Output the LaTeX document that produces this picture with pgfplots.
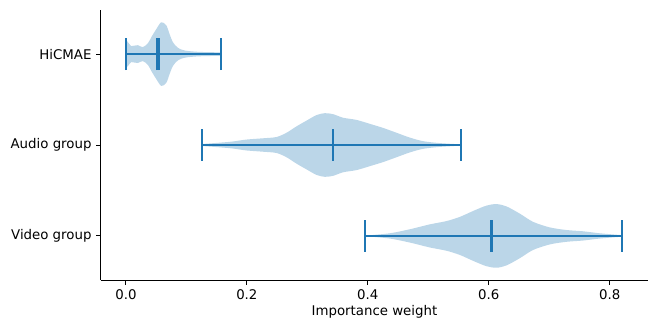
\documentclass[border=0pt]{standalone}
\usepackage{fontspec}
\setmainfont{DejaVu Sans}
\usepackage{pgfplots}
\usepackage{pgfplotstable}
\pgfplotsset{compat=1.18}
\usepgfplotslibrary{fillbetween}
\definecolor{c0}{HTML}{1F77B4}

% x = importance weight, w = half width of the violin (y units)
\pgfplotstableread{
x w
0.0000 0.153
0.0033 0.131
0.0088 0.088
0.0140 0.093
0.0198 0.098
0.0280 0.077
0.0364 0.120
0.0420 0.186
0.0500 0.273
0.0584 0.350
0.0667 0.317
0.0722 0.219
0.0777 0.131
0.0860 0.069
0.0970 0.040
0.1190 0.025
0.1565 0.019
}\hicmae

\pgfplotstableread{
x w
0.1262 0.011
0.1719 0.035
0.1994 0.060
0.2270 0.074
0.2490 0.088
0.2656 0.135
0.2821 0.205
0.2986 0.268
0.3152 0.329
0.3289 0.350
0.3427 0.339
0.3592 0.300
0.3813 0.276
0.4033 0.233
0.4253 0.188
0.4474 0.135
0.4694 0.082
0.4915 0.042
0.5190 0.021
0.5537 0.007
}\audio

\pgfplotstableread{
x w
0.3961 0.003
0.4364 0.029
0.4694 0.073
0.5025 0.127
0.5300 0.163
0.5521 0.209
0.5741 0.274
0.5961 0.333
0.6127 0.350
0.6292 0.325
0.6512 0.246
0.6733 0.155
0.7008 0.094
0.7284 0.065
0.7559 0.051
0.7835 0.029
0.8209 0.008
}\video

\begin{document}
\begin{tikzpicture}
\begin{axis}[
  at={(0pt,0pt)}, anchor=south west,
  scale only axis,
  width=393.8pt, height=194.4pt,
  xmin=-0.0413, xmax=0.8633,
  ymin=0.515, ymax=3.485,
  axis x line*=bottom, axis y line*=left,
  axis line style={-, line width=0.7pt},
  tick style={black, line width=0.7pt},
  tick align=outside,
  major tick length=3.3pt,
  xtick={0,0.2,0.4,0.6,0.8},
  xticklabel style={/pgf/number format/.cd, fixed, fixed zerofill, precision=1},
  /pgf/number format/assume math mode=true,
  ytick={1,2,3},
  yticklabels={Video group, Audio group, HiCMAE},
  ticklabel style={font=\fontsize{9.6}{11.5}\selectfont},
  xlabel={Importance weight},
  xlabel style={font=\fontsize{9.6}{11.5}\selectfont, yshift=2.5pt},
  vline/.style={c0, line width=1.4pt, mark=none, solid},
]
% HiCMAE violin (y=3)
\addplot[name path=ht, draw=none, smooth] table[x=x, y expr=3+\thisrow{w}] {\hicmae};
\addplot[name path=hb, draw=none, smooth] table[x=x, y expr=3-\thisrow{w}] {\hicmae};
\addplot[fill=c0, fill opacity=0.3, draw=none] fill between[of=ht and hb];
% Audio violin (y=2)
\addplot[name path=at, draw=none, smooth] table[x=x, y expr=2+\thisrow{w}] {\audio};
\addplot[name path=ab, draw=none, smooth] table[x=x, y expr=2-\thisrow{w}] {\audio};
\addplot[fill=c0, fill opacity=0.3, draw=none] fill between[of=at and ab];
% Video violin (y=1)
\addplot[name path=vt, draw=none, smooth] table[x=x, y expr=1+\thisrow{w}] {\video};
\addplot[name path=vb, draw=none, smooth] table[x=x, y expr=1-\thisrow{w}] {\video};
\addplot[fill=c0, fill opacity=0.3, draw=none] fill between[of=vt and vb];

% HiCMAE: bars, extrema, mean, median
\addplot[vline] coordinates {(0.0,3) (0.1565,3)};
\addplot[vline] coordinates {(0.0,2.825) (0.0,3.175)};
\addplot[vline] coordinates {(0.1565,2.825) (0.1565,3.175)};
\addplot[vline] coordinates {(0.0507,2.825) (0.0507,3.175)};
\addplot[vline] coordinates {(0.0550,2.825) (0.0550,3.175)};
% Audio group
\addplot[vline] coordinates {(0.1262,2) (0.5537,2)};
\addplot[vline] coordinates {(0.1262,1.825) (0.1262,2.175)};
\addplot[vline] coordinates {(0.5537,1.825) (0.5537,2.175)};
\addplot[vline] coordinates {(0.3427,1.825) (0.3427,2.175)};
\addplot[vline] coordinates {(0.3430,1.825) (0.3430,2.175)};
% Video group
\addplot[vline] coordinates {(0.3961,1) (0.8209,1)};
\addplot[vline] coordinates {(0.3961,0.825) (0.3961,1.175)};
\addplot[vline] coordinates {(0.8209,0.825) (0.8209,1.175)};
\addplot[vline] coordinates {(0.6035,0.825) (0.6035,1.175)};
\addplot[vline] coordinates {(0.6050,0.825) (0.6050,1.175)};
\end{axis}
\pgfresetboundingbox
\useasboundingbox (-72.7pt,-28.8pt) rectangle (395.3pt,201.6pt);
\end{tikzpicture}
\end{document}
